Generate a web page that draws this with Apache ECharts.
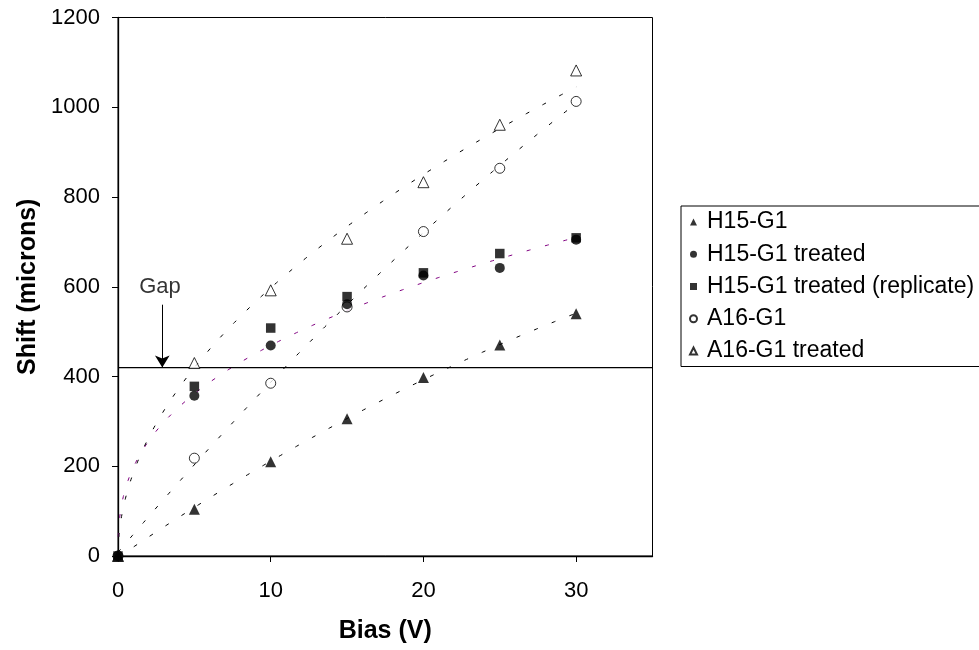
<!DOCTYPE html>
<html>
<head>
<meta charset="utf-8">
<script src="https://cdn.jsdelivr.net/npm/echarts@6/dist/echarts.min.js"></script>
<style>
html,body{margin:0;padding:0;background:#fff;}
#chart{width:979px;height:650px;}
</style>
</head>
<body>
<div id="chart"></div>
<script>
// ---- data ----
const biasV = [0, 5, 10, 15, 20, 25, 30];
const h15g1 = [0, 104, 210, 306, 398, 470, 540];
const h15g1Treated = [0, 357, 469, 561, 625, 642, 705];
const h15g1Replicate = [0, 378, 508, 578, 631, 674, 709];
const a16g1 = [0, 218, 385, 555, 723, 864, 1013];
const a16g1Treated = [0, 430, 592, 707, 833, 961, 1082];
const seriesNames = ['H15-G1', 'H15-G1 treated', 'H15-G1 treated (replicate)', 'A16-G1', 'A16-G1 treated'];
const xTicks = [0, 10, 20, 30];
const yTicks = [0, 200, 400, 600, 800, 1000, 1200];
const gapLevel = 420;
const gapLabel = 'Gap';
const gapArrow = [2.9, 560];
const gapText = [2.75, 600];

// ---- helpers ----
function pairs(xs, ys) { return xs.map((x, i) => [x, ys[i]]); }
function sampleXs(xMax) {
  const out = [];
  for (let t = 0; t <= 1.0001; t += 0.004) out.push(xMax * t * t);
  return out;
}
// power-law trendline (least squares in log space), like a spreadsheet trendline
function powerTrend(xs, ys) {
  const lx = [], ly = [];
  xs.forEach((x, i) => { if (x > 0 && ys[i] > 0) { lx.push(Math.log(x)); ly.push(Math.log(ys[i])); } });
  const n = lx.length;
  const mx = lx.reduce((a, b) => a + b, 0) / n;
  const my = ly.reduce((a, b) => a + b, 0) / n;
  let sxy = 0, sxx = 0;
  for (let i = 0; i < n; i++) { sxy += (lx[i] - mx) * (ly[i] - my); sxx += (lx[i] - mx) * (lx[i] - mx); }
  const b = sxy / sxx, a = Math.exp(my - b * mx);
  return sampleXs(Math.max(...xs)).map(x => [x, x === 0 ? 0 : a * Math.pow(x, b)]);
}
// 2nd-order polynomial trendline (least squares)
function polyTrend(xs, ys) {
  let s = [0, 0, 0, 0, 0], t = [0, 0, 0];
  xs.forEach((x, i) => {
    for (let k = 0; k < 5; k++) s[k] += Math.pow(x, k);
    for (let k = 0; k < 3; k++) t[k] += ys[i] * Math.pow(x, k);
  });
  const M = [[s[0], s[1], s[2], t[0]], [s[1], s[2], s[3], t[1]], [s[2], s[3], s[4], t[2]]];
  for (let c = 0; c < 3; c++) {
    for (let r = c + 1; r < 3; r++) {
      const f = M[r][c] / M[c][c];
      for (let k = c; k < 4; k++) M[r][k] -= f * M[c][k];
    }
  }
  const coef = [0, 0, 0];
  for (let r = 2; r >= 0; r--) {
    let v = M[r][3];
    for (let k = r + 1; k < 3; k++) v -= M[r][k] * coef[k];
    coef[r] = v / M[r][r];
  }
  return sampleXs(Math.max(...xs)).map(x => [x, coef[0] + coef[1] * x + coef[2] * x * x]);
}

const FONT = "'Liberation Sans', Arial, sans-serif";
const dashStyle = (color) => ({ color: color, width: 1, type: [4, 15] });

function trendSeries(points, color) {
  return {
    type: 'line', data: points, showSymbol: false, symbol: 'none',
    lineStyle: dashStyle(color), silent: true, z: 1, animation: false
  };
}

const chart = echarts.init(document.getElementById('chart'), null, { renderer: 'canvas' });
const option = {
  animation: false,
  backgroundColor: '#fff',
  textStyle: { fontFamily: FONT },
  grid: { left: 118, top: 17.5, width: 534.5, height: 538.5, show: true, borderColor: '#000', borderWidth: 1, backgroundColor: 'transparent' },
  legend: {
    data: seriesNames,
    orient: 'vertical', left: 681, top: 206,
    itemWidth: 7, itemHeight: 7, itemGap: 8.25,
    padding: [4, 30, 3.5, 8],
    borderColor: '#000', borderWidth: 1,
    textStyle: { fontFamily: FONT, fontSize: 23, color: '#000', lineHeight: 24, padding: [0, 0, 0, 5] },
    selectedMode: false
  },
  xAxis: {
    type: 'value', min: 0, max: 35, interval: 10,
    name: 'Bias (V)', nameLocation: 'middle', nameGap: 63,
    nameTextStyle: { fontFamily: FONT, fontSize: 25, fontWeight: 'bold', color: '#000' },
    axisLine: { show: true, onZero: false, lineStyle: { color: '#000', width: 1.3 } },
    axisTick: { show: true, length: 6, lineStyle: { color: '#000' } },
    axisLabel: { fontFamily: FONT, fontSize: 22, color: '#000', margin: 24, showMaxLabel: false,
      formatter: (v) => xTicks.indexOf(v) >= 0 ? String(v) : '' },
    splitLine: { show: false }
  },
  yAxis: {
    type: 'value', min: 0, max: 1200, interval: 200,
    name: 'Shift (microns)', nameLocation: 'middle', nameGap: 74,
    nameTextStyle: { fontFamily: FONT, fontSize: 25, fontWeight: 'bold', color: '#000' },
    axisLine: { show: true, onZero: false, lineStyle: { color: '#000', width: 1.3 } },
    axisTick: { show: true, length: 6, lineStyle: { color: '#000' } },
    axisLabel: { fontFamily: FONT, fontSize: 22, color: '#000', margin: 18,
      formatter: (v) => yTicks.indexOf(v) >= 0 ? String(v) : '' },
    splitLine: { show: false }
  },
  series: [
    trendSeries(polyTrend(biasV, h15g1), '#000'),
    trendSeries(powerTrend(biasV, h15g1Treated), '#800080'),
    trendSeries(polyTrend(biasV, a16g1), '#000'),
    trendSeries(powerTrend(biasV, a16g1Treated), '#000'),
    {
      type: 'line', data: [[0, gapLevel], [35, gapLevel]], symbol: 'none', silent: true, z: 2,
      lineStyle: { color: '#000', width: 1.3 },
      markLine: {
        silent: true, symbol: ['none', 'arrow'], symbolSize: [11, 12],
        lineStyle: { color: '#000', width: 1, type: 'solid' }, label: { show: false },
        data: [[{ coord: gapArrow }, { coord: [gapArrow[0], gapLevel] }]]
      }
    },
    {
      type: 'scatter', data: [gapText], symbolSize: 0, silent: true,
      label: { show: true, position: 'inside', formatter: gapLabel, fontFamily: FONT, fontSize: 22, color: '#000' }
    },
    { name: seriesNames[3], type: 'scatter', data: pairs(biasV, a16g1), symbol: 'circle', symbolSize: 10,
      itemStyle: { color: '#fff', borderColor: '#000', borderWidth: 1 }, z: 3 },
    { name: seriesNames[4], type: 'scatter', data: pairs(biasV, a16g1Treated), symbol: 'triangle', symbolSize: 11,
      itemStyle: { color: '#fff', borderColor: '#000', borderWidth: 1 }, z: 3 },
    { name: seriesNames[0], type: 'scatter', data: pairs(biasV, h15g1), symbol: 'triangle', symbolSize: 11,
      itemStyle: { color: '#000' }, z: 4 },
    { name: seriesNames[1], type: 'scatter', data: pairs(biasV, h15g1Treated), symbol: 'circle', symbolSize: 10,
      itemStyle: { color: '#000' }, z: 4 },
    { name: seriesNames[2], type: 'scatter', data: pairs(biasV, h15g1Replicate), symbol: 'rect', symbolSize: 9.5,
      itemStyle: { color: '#000' }, z: 5 }
  ]
};
chart.setOption(option);
</script>
</body>
</html>
